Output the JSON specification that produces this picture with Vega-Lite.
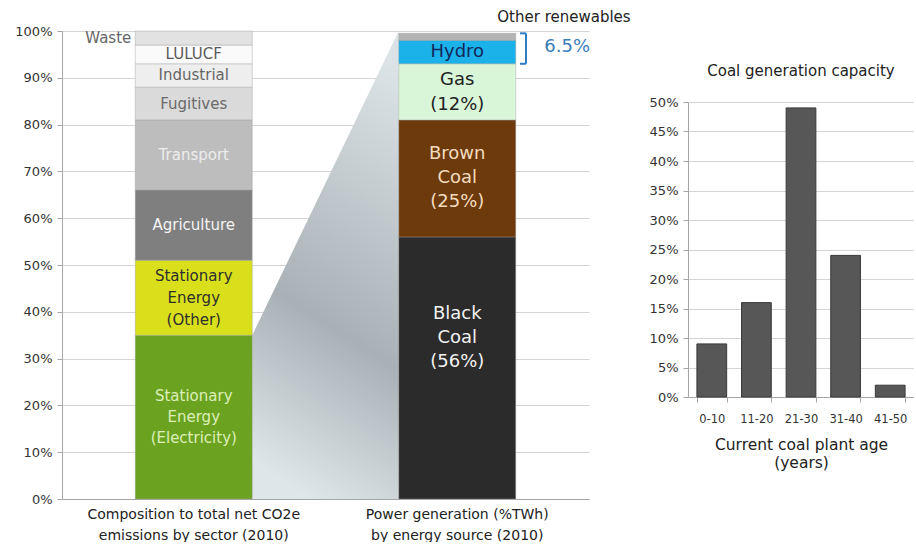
{
  "$schema": "https://vega.github.io/schema/vega-lite/v6.json",
  "background": "white",
  "padding": {"left": 14, "top": 9, "right": 0, "bottom": 0},
  "config": {
    "font": "DejaVu Sans",
    "view": {"stroke": null},
    "axis": {
      "labelFont": "DejaVu Sans",
      "titleFont": "DejaVu Sans",
      "labelColor": "#333333",
      "titleColor": "#222222",
      "domainColor": "#a6a6a6",
      "tickColor": "#a6a6a6",
      "gridColor": "#d4d4d4"
    }
  },
  "datasets": {
    "mix": [
      {"group": "Composition to total net CO2e\nemissions by sector (2010)", "item": "Stationary Energy (Electricity)", "share": 35, "label": "Stationary\nEnergy\n(Electricity)"},
      {"group": "Composition to total net CO2e\nemissions by sector (2010)", "item": "Stationary Energy (Other)", "share": 16, "label": "Stationary\nEnergy\n(Other)"},
      {"group": "Composition to total net CO2e\nemissions by sector (2010)", "item": "Agriculture", "share": 15, "label": "Agriculture"},
      {"group": "Composition to total net CO2e\nemissions by sector (2010)", "item": "Transport", "share": 15, "label": "Transport"},
      {"group": "Composition to total net CO2e\nemissions by sector (2010)", "item": "Fugitives", "share": 7, "label": "Fugitives"},
      {"group": "Composition to total net CO2e\nemissions by sector (2010)", "item": "Industrial", "share": 5, "label": "Industrial"},
      {"group": "Composition to total net CO2e\nemissions by sector (2010)", "item": "LULUCF", "share": 4, "label": "LULUCF"},
      {"group": "Composition to total net CO2e\nemissions by sector (2010)", "item": "Waste", "share": 3, "label": "Waste"},
      {"group": "Power generation (%TWh)\nby energy source (2010)", "item": "Black Coal", "share": 56, "label": "Black\nCoal\n(56%)"},
      {"group": "Power generation (%TWh)\nby energy source (2010)", "item": "Brown Coal", "share": 25, "label": "Brown\nCoal\n(25%)"},
      {"group": "Power generation (%TWh)\nby energy source (2010)", "item": "Gas", "share": 12, "label": "Gas\n(12%)"},
      {"group": "Power generation (%TWh)\nby energy source (2010)", "item": "Hydro", "share": 5, "label": "Hydro"},
      {"group": "Power generation (%TWh)\nby energy source (2010)", "item": "Other renewables", "share": 1.5, "label": ""}
    ],
    "wedge": [
      {"ix": 0.722, "lo": 0, "hi": 35},
      {"ix": 1.278, "lo": 0, "hi": 100}
    ],
    "bracket": [
      {"ix": 1.738, "ix2": 1.761, "lo": 93, "hi": 99.5}
    ],
    "notes": [
      {"ix": 1.905, "y": 103, "text": "Other renewables", "kind": "name"},
      {"ix": 1.917, "y": 96.6, "text": "6.5%", "kind": "value"}
    ],
    "age": [
      {"age": "0-10", "pct": 9},
      {"age": "11-20", "pct": 16},
      {"age": "21-30", "pct": 49},
      {"age": "31-40", "pct": 24},
      {"age": "41-50", "pct": 2}
    ]
  },
  "spacing": 18,
  "center": true,
  "hconcat": [
    {
      "width": 527,
      "height": 468,
      "resolve": {"scale": {"x": "independent"}},
      "layer": [
        {
          "layer": [
            {
              "data": {"name": "wedge"},
              "mark": {
                "type": "area",
                "fill": {
                  "gradient": "linear",
                  "x1": 0.6, "y1": 0, "x2": 0.4, "y2": 1,
                  "stops": [
                    {"offset": 0, "color": "#dce3e6"},
                    {"offset": 0.62, "color": "#a9b1b6"},
                    {"offset": 1, "color": "#dfe6e9"}
                  ]
                }
              },
              "encoding": {
                "x": {"field": "ix", "type": "quantitative", "scale": {"domain": [0, 2], "nice": false, "zero": false}, "axis": null},
                "y": {"field": "hi", "type": "quantitative", "title": null},
                "y2": {"field": "lo"}
              }
            },
            {
              "data": {"name": "bracket"},
              "mark": {"type": "rule", "color": "#2f7dc4", "strokeWidth": 2},
              "encoding": {
                "x": {"field": "ix2", "type": "quantitative"},
                "y": {"field": "lo", "type": "quantitative", "title": null},
                "y2": {"field": "hi"}
              }
            },
            {
              "data": {"name": "bracket"},
              "mark": {"type": "rule", "color": "#2f7dc4", "strokeWidth": 2},
              "encoding": {
                "x": {"field": "ix", "type": "quantitative"},
                "x2": {"field": "ix2"},
                "y": {"field": "lo", "type": "quantitative", "title": null}
              }
            },
            {
              "data": {"name": "bracket"},
              "mark": {"type": "rule", "color": "#2f7dc4", "strokeWidth": 2},
              "encoding": {
                "x": {"field": "ix", "type": "quantitative"},
                "x2": {"field": "ix2"},
                "y": {"field": "hi", "type": "quantitative", "title": null}
              }
            },
            {
              "data": {"name": "notes"},
              "transform": [{"filter": "datum.kind === 'name'"}],
              "mark": {"type": "text", "fontSize": 15, "color": "#222222", "align": "center", "baseline": "middle"},
              "encoding": {
                "x": {"field": "ix", "type": "quantitative"},
                "y": {"field": "y", "type": "quantitative", "title": null},
                "text": {"field": "text"}
              }
            },
            {
              "data": {"name": "notes"},
              "transform": [{"filter": "datum.kind === 'value'"}],
              "mark": {"type": "text", "fontSize": 18, "color": "#3a7cba", "align": "center", "baseline": "middle"},
              "encoding": {
                "x": {"field": "ix", "type": "quantitative"},
                "y": {"field": "y", "type": "quantitative", "title": null},
                "text": {"field": "text"}
              }
            }
          ]
        },
        {
          "data": {"name": "mix"},
          "transform": [
            {"window": [{"op": "row_number", "as": "ord"}]},
            {"stack": "share", "groupby": ["group"], "sort": [{"field": "ord", "order": "ascending"}], "as": ["s0", "s1"]},
            {"calculate": "(datum.s0 + datum.s1) / 2", "as": "mid"}
          ],
          "resolve": {"scale": {"color": "independent"}},
          "encoding": {
            "x": {
              "field": "group",
              "type": "nominal",
              "sort": null,
              "title": null,
              "scale": {"paddingInner": 0.556, "paddingOuter": 0.278},
              "axis": {
                "orient": "bottom",
                "labelAngle": 0,
                "ticks": false,
                "labelExpr": "split(datum.label, '\\n')",
                "labelFontSize": 14,
                "labelLineHeight": 21,
                "labelPadding": 8,
                "labelColor": "#222222",
                "labelLimit": 0
              }
            }
          },
          "layer": [
            {
              "mark": {"type": "bar", "stroke": "#9f9f9f", "strokeWidth": 0.7, "strokeOpacity": 0.6},
              "encoding": {
                "y": {
                  "field": "s0",
                  "type": "quantitative",
                  "title": null,
                  "scale": {"domain": [0, 100], "nice": false},
                  "axis": {
                    "values": [0, 10, 20, 30, 40, 50, 60, 70, 80, 90, 100],
                    "labelExpr": "datum.value + '%'",
                    "grid": true,
                    "tickSize": 5,
                    "labelPadding": 5,
                    "labelFontSize": 13
                  }
                },
                "y2": {"field": "s1"},
                "color": {
                  "field": "item",
                  "type": "nominal",
                  "legend": null,
                  "scale": {
                    "domain": ["Stationary Energy (Electricity)", "Stationary Energy (Other)", "Agriculture", "Transport", "Fugitives", "Industrial", "LULUCF", "Waste", "Black Coal", "Brown Coal", "Gas", "Hydro", "Other renewables"],
                    "range": ["#6ba321", "#d9e01b", "#7f7f7f", "#bdbdbd", "#dadada", "#eeeeee", "#fafafa", "#e2e2e2", "#2b2b2b", "#6d3a0b", "#d9f6d9", "#1bb2ea", "#b5b5b5"]
                  }
                }
              }
            },
            {
              "transform": [{"filter": {"field": "item", "oneOf": ["Agriculture", "Transport", "Fugitives", "Industrial", "LULUCF"]}}],
              "mark": {"type": "text", "fontSize": 15, "align": "center", "baseline": "middle"},
              "encoding": {
                "y": {"field": "mid", "type": "quantitative", "title": null},
                "text": {"field": "label"},
                "color": {
                  "field": "item",
                  "type": "nominal",
                  "legend": null,
                  "scale": {
                    "domain": ["Agriculture", "Transport", "Fugitives", "Industrial", "LULUCF"],
                    "range": ["#f4f4f4", "#ededed", "#6a6a6a", "#666666", "#5a5a5a"]
                  }
                }
              }
            },
            {
              "transform": [{"filter": "datum.item === 'Stationary Energy (Electricity)'"}],
              "mark": {"type": "text", "fontSize": 15, "lineHeight": 21, "lineBreak": "\n", "align": "center", "baseline": "middle", "dy": -21, "color": "#dcefb8"},
              "encoding": {
                "y": {"field": "mid", "type": "quantitative", "title": null},
                "text": {"field": "label"}
              }
            },
            {
              "transform": [{"filter": "datum.item === 'Stationary Energy (Other)'"}],
              "mark": {"type": "text", "fontSize": 15, "lineHeight": 22, "lineBreak": "\n", "align": "center", "baseline": "middle", "dy": -22, "color": "#2e2e2e"},
              "encoding": {
                "y": {"field": "mid", "type": "quantitative", "title": null},
                "text": {"field": "label"}
              }
            },
            {
              "transform": [{"filter": "datum.item === 'Black Coal'"}],
              "mark": {"type": "text", "fontSize": 18, "lineHeight": 24, "lineBreak": "\n", "align": "center", "baseline": "middle", "dy": -54, "color": "#f2f2f2"},
              "encoding": {
                "y": {"field": "mid", "type": "quantitative", "title": null},
                "text": {"field": "label"}
              }
            },
            {
              "transform": [{"filter": "datum.item === 'Brown Coal'"}],
              "mark": {"type": "text", "fontSize": 18, "lineHeight": 24, "lineBreak": "\n", "align": "center", "baseline": "middle", "dy": -24, "color": "#f4dcc0"},
              "encoding": {
                "y": {"field": "mid", "type": "quantitative", "title": null},
                "text": {"field": "label"}
              }
            },
            {
              "transform": [{"filter": "datum.item === 'Gas'"}],
              "mark": {"type": "text", "fontSize": 18, "lineHeight": 25, "lineBreak": "\n", "align": "center", "baseline": "middle", "dy": -12, "color": "#222222"},
              "encoding": {
                "y": {"field": "mid", "type": "quantitative", "title": null},
                "text": {"field": "label"}
              }
            },
            {
              "transform": [{"filter": "datum.item === 'Hydro'"}],
              "mark": {"type": "text", "fontSize": 18, "align": "center", "baseline": "middle", "color": "#14285a"},
              "encoding": {
                "y": {"field": "mid", "type": "quantitative", "title": null},
                "text": {"field": "label"}
              }
            },
            {
              "transform": [{"filter": "datum.item === 'Waste'"}],
              "mark": {"type": "text", "fontSize": 15, "color": "#666666", "align": "right", "baseline": "middle", "dx": -4},
              "encoding": {
                "x": {"field": "group", "type": "nominal", "sort": null, "bandPosition": 0},
                "y": {"field": "mid", "type": "quantitative", "title": null},
                "text": {"field": "label"}
              }
            }
          ]
        }
      ]
    },
    {
      "width": 226,
      "height": 295,
      "data": {"name": "age"},
      "title": {"text": "Coal generation capacity", "fontSize": 15, "fontWeight": "normal", "font": "DejaVu Sans", "color": "#222222", "offset": 17},
      "mark": {"type": "bar", "color": "#575757", "stroke": "#3a3a3a", "strokeWidth": 1},
      "encoding": {
        "x": {
          "field": "age",
          "type": "nominal",
          "sort": null,
          "title": ["Current coal plant age", "(years)"],
          "scale": {"paddingInner": 0.333, "paddingOuter": 0.2},
          "axis": {
            "labelAngle": 0,
            "tickBand": "extent",
            "tickSize": 5,
            "labelPadding": 11,
            "labelFontSize": 11.5,
            "titleFontSize": 15.5,
            "titleFontWeight": "normal",
            "titlePadding": 13,
            "titleLineHeight": 18
          }
        },
        "y": {
          "field": "pct",
          "type": "quantitative",
          "title": null,
          "scale": {"domain": [0, 50], "nice": false},
          "axis": {
            "values": [0, 5, 10, 15, 20, 25, 30, 35, 40, 45, 50],
            "labelExpr": "datum.value + '%'",
            "grid": true,
            "tickSize": 5,
            "labelPadding": 5,
            "labelFontSize": 13
          }
        }
      }
    }
  ]
}
